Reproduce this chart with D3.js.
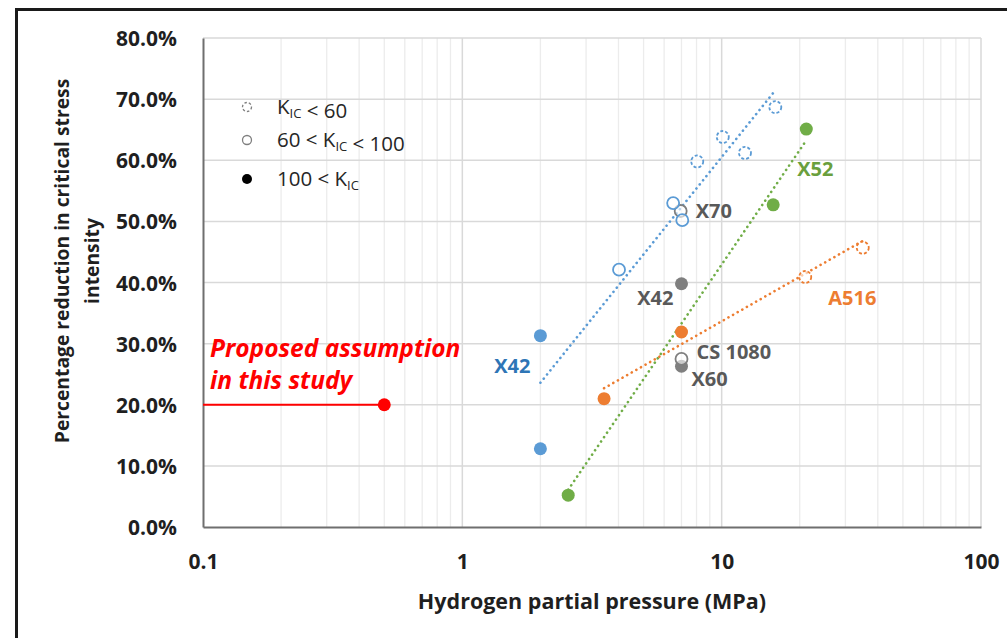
<!DOCTYPE html>
<html>
<head>
<meta charset="utf-8">
<script src="https://cdn.jsdelivr.net/npm/d3@7"></script>
<style>
    body { margin: 0; background: #fff; }
    svg { display: block; font-family: "Open Sans", Lato, sans-serif; }
</style>
</head>
<body>
<svg id="chart" width="1007" height="638"></svg>
<script>
// DATA (pressure in MPa, reduction as fraction; k = K_IC class)
var xTicks = [0.1, 1, 10, 100];
var yTicks = [0, 0.1, 0.2, 0.3, 0.4, 0.5, 0.6, 0.7, 0.8];

var bluePoints = [
    { p: 2, r: 0.313, k: "high" }, { p: 2, r: 0.128, k: "high" },
    { p: 4.02, r: 0.421, k: "mid" }, { p: 6.5, r: 0.53, k: "mid" },
    { p: 7.05, r: 0.502, k: "mid" }, { p: 8.05, r: 0.598, k: "low" },
    { p: 10.1, r: 0.638, k: "low" }, { p: 12.3, r: 0.612, k: "low" },
    { p: 16.1, r: 0.687, k: "low" }
];
var greenPoints = [
    { p: 2.56, r: 0.052, k: "high" }, { p: 15.8, r: 0.527, k: "high" },
    { p: 21.2, r: 0.651, k: "high" }
];
var orangePoints = [
    { p: 3.52, r: 0.21, k: "high" }, { p: 7, r: 0.319, k: "high" },
    { p: 21, r: 0.409, k: "low" }, { p: 35, r: 0.457, k: "low" }
];
var grayPoints = [
    { p: 7, r: 0.398, k: "high" }, { p: 7, r: 0.263, k: "high" },
    { p: 7, r: 0.275, k: "mid" }, { p: 6.95, r: 0.517, k: "mid" }
];
var blueTrend = [[2, 0.236], [16, 0.713]];
var greenTrend = [[2.56, 0.061], [21, 0.63]];
var orangeTrend = [[3.52, 0.227], [35, 0.468]];
var assumption = [[0.1, 0.2], [0.5, 0.2]];

var labels = [
    { text: "X70", p: 6.95, r: 0.517, dx: 15, dy: 7, anchor: "start", color: "#595959" },
    { text: "X52", p: 15.8, r: 0.527, dx: 24, dy: -29, anchor: "start", color: "#6a9f3d" },
    { text: "X42", p: 7, r: 0.398, dx: -8, dy: 21, anchor: "end", color: "#595959" },
    { text: "A516", p: 21, r: 0.409, dx: 23, dy: 28, anchor: "start", color: "#ed7d31" },
    { text: "CS 1080", p: 7, r: 0.275, dx: 15, dy: 0, anchor: "start", color: "#595959" },
    { text: "X60", p: 7, r: 0.263, dx: 10, dy: 20, anchor: "start", color: "#595959" },
    { text: "X42", p: 2, r: 0.313, dx: -10, dy: 37, anchor: "end", color: "#2e75b6" }
];
var proposedLines = ["Proposed assumption", "in this study"];

var legendItems = [
    { k: "low", parts: [["K", ""], ["IC", "sub"], [" < 60", ""]] },
    { k: "mid", parts: [["60 < K", ""], ["IC", "sub"], [" < 100", ""]] },
    { k: "high", parts: [["100 < K", ""], ["IC", "sub"]] }
];

// LAYOUT
var plotLeft = 203, plotRight = 981, plotTop = 38, plotBottom = 527;

var svg = d3.select("#chart");

var x = d3.scaleLog().domain([0.1, 100]).range([plotLeft, plotRight]);
var y = d3.scaleLinear().domain([0, 0.8]).range([plotBottom, plotTop]);

// outer frame
svg.append("rect")
    .attr("x", 16.5).attr("y", 9.5)
    .attr("width", 1010).attr("height", 650)
    .attr("fill", "none")
    .attr("stroke", "#1a1a1a")
    .attr("stroke-width", 3);

// gridlines
var minorTicks = [];
[0.1, 1, 10].forEach(function(base) {
    for (var i = 2; i <= 9; i++) minorTicks.push(base * i);
});

svg.append("g").selectAll("line")
    .data(minorTicks)
    .enter().append("line")
    .attr("x1", function(d) { return x(d); })
    .attr("x2", function(d) { return x(d); })
    .attr("y1", plotTop).attr("y2", plotBottom)
    .attr("stroke", "#ececec")
    .attr("stroke-width", 1.3);

svg.append("g").selectAll("line")
    .data(xTicks.slice(1))
    .enter().append("line")
    .attr("x1", function(d) { return x(d); })
    .attr("x2", function(d) { return x(d); })
    .attr("y1", plotTop).attr("y2", plotBottom)
    .attr("stroke", "#d9d9d9")
    .attr("stroke-width", 1.5);

svg.append("g").selectAll("line")
    .data(yTicks.slice(1))
    .enter().append("line")
    .attr("x1", plotLeft).attr("x2", plotRight)
    .attr("y1", function(d) { return y(d); })
    .attr("y2", function(d) { return y(d); })
    .attr("stroke", "#d9d9d9")
    .attr("stroke-width", 1.5);

// axes
var xAxis = svg.append("g")
    .attr("transform", "translate(0," + plotBottom + ")")
    .call(d3.axisBottom(x).tickValues(xTicks).tickFormat(d3.format("~g")).tickSize(0).tickPadding(27));
var yAxis = svg.append("g")
    .attr("transform", "translate(" + plotLeft + ",0)")
    .call(d3.axisLeft(y).tickValues(yTicks).tickFormat(d3.format(".1%")).tickSize(0).tickPadding(26));

[xAxis, yAxis].forEach(function(a) {
    a.select(".domain").attr("stroke", "#6f6f6f").attr("stroke-width", 2);
    a.selectAll("text")
        .attr("fill", "#1f1f1f")
        .style("font-family", "'Open Sans', sans-serif")
        .style("font-size", "21px")
        .style("font-weight", "bold");
});
yAxis.selectAll("text").attr("dy", "0.36em");
xAxis.selectAll("text").attr("dy", "0.7em");

// axis titles
svg.append("text")
    .attr("x", (plotLeft + plotRight) / 2)
    .attr("y", 609)
    .attr("text-anchor", "middle")
    .attr("fill", "#1f1f1f")
    .style("font-size", "21.5px")
    .style("font-weight", "bold")
    .text("Hydrogen partial pressure (MPa)");

var yTitle = svg.append("text")
    .attr("transform", "translate(69,261) rotate(-90)")
    .attr("text-anchor", "middle")
    .attr("fill", "#1f1f1f")
    .style("font-size", "19.3px")
    .style("font-weight", "bold");
yTitle.append("tspan").attr("x", 0).attr("y", 0).text("Percentage reduction in critical stress");
yTitle.append("tspan").attr("x", 0).attr("y", 30).text("intensity");

// trend lines
var line = d3.line()
    .x(function(d) { return x(d[0]); })
    .y(function(d) { return y(d[1]); });

[[blueTrend, "#5b9bd5"], [greenTrend, "#70ad47"], [orangeTrend, "#ed7d31"]].forEach(function(t) {
    svg.append("path")
        .datum(t[0])
        .attr("d", line)
        .attr("fill", "none")
        .attr("stroke", t[1])
        .attr("stroke-width", 2.6)
        .attr("stroke-linecap", "round")
        .attr("stroke-dasharray", "0.1,5.2");
});

// assumption line
svg.append("path")
    .datum(assumption)
    .attr("d", line)
    .attr("fill", "none")
    .attr("stroke", "#ff0000")
    .attr("stroke-width", 2);

svg.append("circle")
    .attr("cx", x(assumption[1][0]))
    .attr("cy", y(assumption[1][1]))
    .attr("r", 6.5)
    .attr("fill", "#ff0000");

// markers
var drawMarkers = function(data, color) {
    svg.append("g").selectAll("circle")
        .data(data)
        .enter().append("circle")
        .attr("cx", function(d) { return x(d.p); })
        .attr("cy", function(d) { return y(d.r); })
        .attr("r", function(d) { return d.k === "high" ? 6.5 : 6; })
        .attr("fill", function(d) { return d.k === "high" ? color : "#fff"; })
        .attr("fill-opacity", function(d) { return d.k === "high" ? 1 : 0.6; })
        .attr("stroke", color)
        .attr("stroke-width", function(d) { return d.k === "high" ? 0 : 1.8; })
        .attr("stroke-dasharray", function(d) { return d.k === "low" ? "3,2" : null; });
};

drawMarkers(orangePoints, "#ed7d31");
drawMarkers(greenPoints, "#70ad47");
drawMarkers(grayPoints, "#7f7f7f");
drawMarkers(bluePoints, "#5b9bd5");

// point labels
svg.append("g").selectAll("text")
    .data(labels)
    .enter().append("text")
    .attr("x", function(d) { return x(d.p) + d.dx; })
    .attr("y", function(d) { return y(d.r) + d.dy; })
    .attr("text-anchor", function(d) { return d.anchor; })
    .attr("fill", function(d) { return d.color; })
    .style("font-size", "20px")
    .style("font-weight", "bold")
    .text(function(d) { return d.text; });

svg.append("g").selectAll("text")
    .data(proposedLines)
    .enter().append("text")
    .attr("x", x(0.1) + 7)
    .attr("y", function(d, i) { return y(0.2) - 48 + i * 32; })
    .attr("fill", "#ff0000")
    .style("font-size", "24.5px")
    .style("font-weight", "bold")
    .style("font-style", "italic")
    .text(function(d) { return d; });

// legend
var legend = svg.append("g").attr("transform", "translate(247,107)");
var legendRows = legend.selectAll("g")
    .data(legendItems)
    .enter().append("g")
    .attr("transform", function(d, i) { return "translate(0," + [0, 33, 72][i] + ")"; });

legendRows.append("circle")
    .attr("r", function(d) { return d.k === "high" ? 5 : 4.5; })
    .attr("fill", function(d) { return d.k === "high" ? "#000" : "#fff"; })
    .attr("stroke", function(d) { return d.k === "high" ? "none" : "#7f7f7f"; })
    .attr("stroke-width", 1.3)
    .attr("stroke-dasharray", function(d) { return d.k === "low" ? "2.5,2" : null; });

var legendText = legendRows.append("text")
    .attr("x", 30)
    .attr("y", 7)
    .attr("fill", "#262626")
    .style("font-size", "20.5px");

legendText.each(function(d) {
    var t = d3.select(this);
    d.parts.forEach(function(part) {
        t.append("tspan")
            .attr("dy", part[1] === "sub" ? 4 : null)
            .style("font-size", part[1] === "sub" ? "13px" : null)
            .text(part[0]);
        if (part[1] === "sub") t.append("tspan").attr("dy", -4).text("");
    });
});
</script>
</body>
</html>
